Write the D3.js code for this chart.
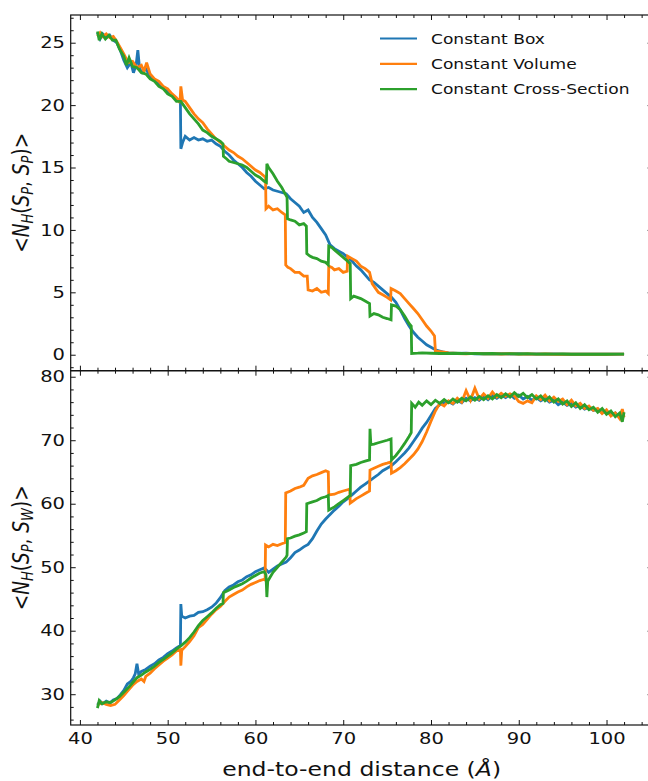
<!DOCTYPE html>
<html><head><meta charset="utf-8">
<script src="https://cdn.jsdelivr.net/npm/d3@7"></script>
<style>body{margin:0;background:#fff}svg{display:block}text{font-family:"DejaVu Sans",sans-serif;fill:#111}</style>
</head><body><svg id="c" width="648" height="781"></svg>
<script>
const seriesNames = ["Constant Box","Constant Volume","Constant Cross-Section"];
const seriesColors = ["#1f77b4","#ff7f0e","#2ca02c"];
const xMajorTicks = [40,50,60,70,80,90,100];
const topMajorTicks = [0,5,10,15,20,25];
const botMajorTicks = [30,40,50,60,70,80];

// top panel: <N_H(S_P,S_P)>  [distance, value]
const boxSP = [[42,25.8],[42.3,25.3],[42.6,25.7],[43,25.4],[43.4,25.6],[43.8,25.2],[44.2,25.0],[44.6,24.4],[45,23.6],[45.4,23.0],[45.8,23.4],[46.1,22.6],[46.4,23.2],[46.6,24.4],[46.8,22.9],[47.1,22.6],[47.5,22.9],[48,22.3],[48.5,22.0],[49,21.7],[49.5,21.4],[50,21.1],[50.5,20.8],[51,20.5],[51.45,20.3],[51.5,16.5],[51.7,17.0],[52,17.5],[52.5,17.2],[53,17.4],[53.5,17.2],[54,17.3],[54.5,17.1],[55,17.2],[55.5,16.9],[56,16.7],[56.5,16.3],[57,16.0],[57.5,15.6],[58,15.3],[58.5,15.0],[59,14.6],[59.5,14.3],[60,13.9],[60.5,13.6],[61,13.3],[61.5,13.4],[62,13.2],[62.5,13.1],[63,13.0],[63.5,12.9],[64,12.5],[64.5,12.2],[65,11.9],[65.5,11.4],[66,11.6],[66.5,11.0],[67,10.6],[67.5,10.1],[68,9.6],[68.5,8.8],[69,8.5],[69.5,8.3],[70,8.1],[70.5,7.8],[71,7.5],[71.5,7.1],[72,6.8],[72.5,6.4],[73,6.0],[73.5,5.8],[74,5.5],[74.5,5.2],[75,4.9],[75.5,4.6],[76,4.2],[76.5,3.6],[77,2.9],[77.5,2.3],[78,1.8],[78.5,1.4],[79,1.1],[79.5,0.8],[80,0.6],[80.5,0.4],[81,0.3],[81.5,0.2],[82,0.15],[83,0.1],[84,0.12],[85,0.08],[86,0.1],[87,0.07],[88,0.09],[89,0.06],[90,0.08],[91,0.05],[92,0.07],[93,0.05],[94,0.06],[95,0.04],[96,0.05],[97,0.04],[98,0.05],[99,0.04],[100,0.05],[101,0.04],[102,0.05]];
const volSP = [[42,25.5],[42.3,25.8],[42.6,25.5],[43,25.7],[43.4,25.4],[43.8,25.5],[44.2,25.1],[44.6,24.6],[45,24.1],[45.5,23.4],[46,23.5],[46.5,23.0],[47,23.2],[47.3,22.7],[47.6,23.4],[48,22.5],[48.5,22.1],[49,21.9],[49.5,21.5],[50,21.3],[50.5,20.9],[51,20.6],[51.4,20.2],[51.5,21.5],[51.7,20.4],[52,20.3],[52.5,19.8],[53,19.3],[53.5,18.9],[54,18.6],[54.5,18.1],[55,17.7],[55.5,17.3],[56,17.0],[56.5,16.7],[57,16.4],[57.5,16.2],[58,15.9],[58.5,15.7],[59,15.4],[59.5,15.1],[60,14.8],[60.5,14.6],[61,14.3],[61.15,14.2],[61.2,11.7],[61.5,11.9],[62,11.6],[62.5,11.7],[63,11.4],[63.4,11.2],[63.45,7.2],[63.7,7.0],[64,6.9],[64.5,6.6],[65,6.6],[65.5,6.3],[65.9,6.3],[66,5.2],[66.5,5.1],[67,5.3],[67.5,5.0],[68,5.1],[68.3,4.9],[68.35,7.1],[68.7,7.0],[69,6.8],[69.5,6.9],[70,6.6],[70.45,6.7],[70.5,7.9],[71,7.7],[71.5,7.5],[72,7.1],[72.5,6.9],[73,6.6],[73.3,5.7],[73.7,5.3],[74,5.0],[74.5,4.8],[75,4.6],[75.4,4.4],[75.45,5.3],[76,5.1],[76.5,4.9],[77,4.5],[77.5,4.1],[78,3.7],[78.5,3.3],[79,2.8],[79.5,2.3],[80,1.9],[80.4,1.5],[80.5,0.3],[81,0.25],[81.5,0.2],[82,0.15],[83,0.1],[84,0.08],[85,0.11],[86,0.07],[87,0.09],[88,0.06],[89,0.08],[90,0.05],[91,0.07],[92,0.05],[93,0.06],[94,0.04],[95,0.05],[96,0.04],[97,0.05],[98,0.04],[99,0.05],[100,0.04],[101,0.05],[102,0.04]];
const crossSP = [[42,25.9],[42.2,25.2],[42.5,25.7],[42.9,25.3],[43.3,25.6],[43.7,25.2],[44.1,25.2],[44.5,24.5],[45,23.9],[45.3,23.2],[45.6,23.8],[46,23.1],[46.5,23.0],[47,22.6],[47.5,22.5],[48,22.1],[48.5,21.9],[49,21.5],[49.5,21.3],[50,20.9],[50.5,20.7],[51,20.3],[51.5,20.3],[52,19.8],[52.5,19.3],[53,18.9],[53.5,18.5],[54,18.0],[54.5,17.8],[55,17.5],[55.5,17.3],[56,17.1],[56.3,16.9],[56.35,15.9],[56.7,15.7],[57,15.5],[57.5,15.4],[58,15.3],[58.5,15.2],[59,15.0],[59.5,14.7],[60,14.4],[60.5,14.2],[61,13.9],[61.25,13.8],[61.3,15.3],[61.5,15.0],[62,14.5],[62.5,13.9],[63,13.4],[63.6,12.6],[63.65,10.9],[64,10.8],[64.5,10.7],[65,10.4],[65.5,10.5],[65.8,10.3],[65.85,8.1],[66.2,7.9],[66.5,7.8],[67,7.7],[67.5,7.5],[68,7.4],[68.3,7.2],[68.35,8.7],[68.7,8.6],[69,8.4],[69.5,8.1],[70,7.8],[70.5,7.5],[70.8,7.3],[70.85,4.5],[71.2,4.7],[71.6,4.6],[72,4.5],[72.5,4.3],[73,4.1],[73.05,3.1],[73.5,3.3],[74,3.2],[74.5,3.0],[75,2.9],[75.45,2.8],[75.5,4.0],[76,3.9],[76.5,3.6],[77,3.1],[77.5,2.5],[77.75,2.3],[77.8,0.1],[78.5,0.12],[79,0.15],[80,0.12],[81,0.1],[82,0.1],[83,0.12],[84,0.09],[85,0.1],[86,0.08],[87,0.1],[88,0.07],[89,0.09],[90,0.06],[91,0.08],[92,0.05],[93,0.07],[94,0.05],[95,0.06],[96,0.04],[97,0.05],[98,0.04],[99,0.05],[100,0.04],[101,0.05],[102,0.04]];

// bottom panel: <N_H(S_P,S_W)>  [distance, value]
const boxSW = [[42,28.3],[42.3,28.9],[42.6,28.5],[43,28.9],[43.4,28.6],[43.8,29.1],[44.2,29.3],[44.6,29.9],[45,30.6],[45.4,31.6],[45.8,32.0],[46.1,32.6],[46.3,33.2],[46.5,34.8],[46.7,33.1],[47,33.6],[47.5,33.9],[48,34.4],[48.5,34.8],[49,35.4],[49.5,35.8],[50,36.4],[50.5,36.8],[51,37.3],[51.45,37.7],[51.5,44.2],[51.6,42.3],[52,42.0],[52.5,42.3],[53,42.4],[53.5,42.9],[54,43.0],[54.5,43.3],[55,43.7],[55.5,44.3],[56,45.2],[56.5,46.3],[57,46.9],[57.5,47.2],[58,47.7],[58.5,48.0],[59,48.5],[59.5,48.8],[60,49.3],[60.5,49.6],[61,49.9],[61.5,49.2],[62,49.7],[62.5,50.2],[63,50.5],[63.5,50.8],[64,51.5],[64.5,52.3],[65,52.7],[65.5,53.2],[66,53.6],[66.5,54.5],[67,55.7],[67.5,56.8],[68,57.6],[68.5,58.3],[69,59.0],[69.5,59.6],[70,60.3],[70.5,60.8],[71,61.4],[71.5,62.0],[72,62.6],[72.5,63.1],[73,63.6],[73.5,64.1],[74,64.6],[74.5,65.2],[75,65.6],[75.5,66.0],[76,66.6],[76.5,67.3],[77,68.0],[77.5,68.8],[78,69.8],[78.5,70.8],[79,71.9],[79.5,72.8],[80,73.9],[80.5,75.0],[81,75.6],[81.5,75.9],[82,76.1],[82.5,75.7],[83,76.3],[83.5,75.9],[84,76.6],[84.5,76.2],[85,76.7],[85.5,76.3],[86,76.9],[86.5,76.4],[87,77.0],[87.5,76.6],[88,77.1],[88.5,76.7],[89,77.2],[89.5,76.6],[90,77.1],[90.5,76.5],[91,76.9],[91.5,76.3],[92,76.7],[92.5,76.2],[93,76.6],[93.5,76.0],[94,76.3],[94.5,75.6],[95,76.0],[95.5,75.5],[96,75.8],[96.5,75.2],[97,75.5],[97.5,74.9],[98,75.2],[98.5,74.7],[99,74.9],[99.5,74.3],[100,74.6],[100.5,74.0],[101,74.3],[101.5,73.6],[102,73.9]];
const volSW = [[42,28.3],[42.5,28.7],[43,28.4],[43.5,28.2],[44,28.4],[44.5,29.1],[45,29.8],[45.5,30.6],[46,31.4],[46.5,32.0],[47,32.4],[47.3,32.0],[47.5,32.8],[48,33.3],[48.5,34.0],[49,34.6],[49.5,35.2],[50,35.7],[50.5,36.2],[51,36.8],[51.45,37.0],[51.5,34.5],[51.6,36.9],[52,37.5],[52.5,38.3],[53,39.2],[53.5,40.5],[54,41.0],[54.5,41.8],[55,42.6],[55.5,43.3],[56,43.8],[56.5,44.6],[57,45.3],[57.5,45.7],[58,46.1],[58.5,46.4],[59,46.9],[59.5,47.3],[60,47.6],[60.5,47.9],[61,48.1],[61.1,48.0],[61.15,53.5],[61.5,53.2],[62,53.6],[62.5,53.4],[63,53.7],[63.4,53.9],[63.45,61.7],[64,62.0],[64.5,62.4],[65,62.6],[65.5,62.9],[66,64.0],[66.5,64.4],[67,64.6],[67.5,64.9],[68,65.2],[68.3,65.0],[68.35,61.4],[69,61.5],[69.5,61.8],[70,62.0],[70.5,62.2],[70.75,62.3],[70.8,60.1],[71,60.3],[71.5,60.8],[72,61.2],[72.5,61.6],[73,62.0],[73.05,65.3],[73.5,65.6],[74,65.9],[74.5,66.2],[75,66.4],[75.45,66.6],[75.5,64.8],[76,65.2],[76.5,65.7],[77,66.3],[77.5,67.0],[78,67.7],[78.5,68.6],[79,69.8],[79.5,71.3],[80,73.0],[80.5,74.6],[81,75.8],[81.5,75.4],[82,76.2],[82.5,75.8],[83,76.6],[83.5,76.0],[84,77.8],[84.5,76.3],[85,78.2],[85.5,76.5],[86,77.3],[86.5,76.6],[87,77.6],[87.5,76.8],[88,77.4],[88.5,76.9],[89,77.3],[89.5,77.0],[90,76.1],[90.5,75.8],[91,76.2],[91.5,75.9],[92,77.0],[92.5,76.4],[93,77.1],[93.5,76.2],[94,76.8],[94.5,76.1],[95,76.5],[95.5,75.6],[96,76.3],[96.5,75.4],[97,75.8],[97.5,75.0],[98,75.4],[98.5,74.7],[99,75.0],[99.5,74.2],[100,74.8],[100.5,73.8],[101,74.3],[101.5,73.4],[101.8,74.9],[102,73.6]];
const crossSW = [[42,27.8],[42.2,29.0],[42.5,28.5],[43,28.8],[43.5,28.7],[44,29.1],[44.5,29.6],[45,30.3],[45.5,31.0],[46,31.8],[46.5,32.6],[47,33.0],[47.5,33.5],[48,33.9],[48.5,34.4],[49,35.0],[49.5,35.5],[50,36.0],[50.5,36.5],[51,37.1],[51.5,37.6],[52,38.2],[52.5,38.9],[53,39.8],[53.5,40.8],[54,41.6],[54.5,42.2],[55,42.8],[55.5,43.5],[56,44.1],[56.3,44.3],[56.35,46.0],[57,46.4],[57.5,46.8],[58,47.1],[58.5,47.4],[59,47.8],[59.5,48.3],[60,48.7],[60.5,49.1],[61,49.3],[61.2,48.8],[61.3,45.3],[61.4,47.8],[61.7,48.5],[62,49.2],[62.5,50.0],[63,50.8],[63.5,51.6],[63.6,51.9],[63.65,54.5],[64,54.6],[64.5,54.9],[65,55.1],[65.5,55.4],[65.8,55.6],[65.85,60.0],[66.5,60.3],[67,60.5],[67.5,60.9],[68,61.1],[68.3,61.3],[68.35,59.0],[69,59.5],[69.5,60.0],[70,60.5],[70.5,61.0],[70.8,61.3],[70.85,66.0],[71.5,66.2],[72,66.5],[72.5,66.7],[73,66.9],[73.05,71.8],[73.15,69.3],[73.5,69.4],[74,69.6],[74.5,69.8],[75,70.0],[75.45,70.2],[75.5,66.9],[76,67.6],[76.5,68.5],[77,69.5],[77.5,70.6],[77.75,71.2],[77.8,75.8],[78.2,75.2],[78.6,76.0],[79,75.5],[79.5,76.2],[80,75.6],[80.5,76.3],[81,75.8],[81.5,76.4],[82,75.9],[82.5,76.5],[83,76.0],[83.5,76.6],[84,76.2],[84.5,76.8],[85,76.3],[85.5,76.9],[86,76.4],[86.5,77.0],[87,76.5],[87.5,77.2],[88,76.7],[88.5,77.3],[89,76.8],[89.5,77.5],[90,76.9],[90.5,77.4],[91,76.7],[91.5,77.2],[92,76.5],[92.5,77.0],[93,76.2],[93.5,76.8],[94,76.0],[94.5,76.5],[95,75.7],[95.5,76.2],[96,75.3],[96.5,75.9],[97,75.0],[97.5,75.6],[98,74.8],[98.5,75.2],[99,74.4],[99.5,75.0],[100,74.1],[100.5,74.6],[101,73.7],[101.5,74.3],[101.8,72.9],[102,74.4]];

const svg = d3.select("#c");
const L = 70.7, R = 652.6, T = 15, MID = 370.7, B = 725;
const STRETCH = 1.22;
const x = d3.scaleLinear().domain([38.95,105.25]).range([L,R]);
const yTop = d3.scaleLinear().domain([-1.28,27.22]).range([MID,T]);
const yBot = d3.scaleLinear().domain([25.15,80.95]).range([B,MID]);

const xMinor = d3.range(40,106,2).filter(v=>v%10!==0);
const yTopMinor = d3.range(-1,28,1).filter(v=>v%5!==0);
const yBotMinor = d3.range(26,81,2).filter(v=>v%10!==0);

const defs = svg.append("defs");
defs.append("clipPath").attr("id","clipTop").append("rect").attr("x",L).attr("y",T).attr("width",R-L).attr("height",MID-T);
defs.append("clipPath").attr("id","clipBot").append("rect").attr("x",L).attr("y",MID).attr("width",R-L).attr("height",B-MID);

function drawLines(data, yScale, clip){
  const g = svg.append("g").attr("clip-path",`url(#${clip})`);
  const line = d3.line().x(d=>x(d[0])).y(d=>yScale(d[1]));
  data.forEach((s,i)=>{
    g.append("path").attr("d",line(s)).attr("fill","none")
      .attr("stroke",seriesColors[i]).attr("stroke-width",2.8)
      .attr("stroke-linejoin","miter").attr("stroke-miterlimit",3);
  });
}
drawLines([boxSP,volSP,crossSP], yTop, "clipTop");
drawLines([boxSW,volSW,crossSW], yBot, "clipBot");

function axis(gen, tx, ty, vals, len, labels){
  const a = gen.tickValues(vals).tickSize(-len);
  if(!labels) a.tickFormat("");
  const g = svg.append("g").attr("transform",`translate(${tx},${ty})`).call(a);
  g.select(".domain").remove();
  g.selectAll(".tick line").attr("stroke","#111").attr("stroke-width",1);
  return g;
}
function panelAxes(yScale, yMaj, yMin, top, bottom, xLabels){
  axis(d3.axisTop(x), 0, top, xMajorTicks, 5, false);
  axis(d3.axisTop(x), 0, top, xMinor, 3, false);
  const gb = axis(d3.axisBottom(x).tickPadding(8), 0, bottom, xMajorTicks, 5, xLabels);
  axis(d3.axisBottom(x), 0, bottom, xMinor, 3, false);
  const gl = axis(d3.axisLeft(yScale).tickPadding(4.7), L, 0, yMaj, 5, true);
  axis(d3.axisLeft(yScale), L, 0, yMin, 3, false);
  axis(d3.axisRight(yScale), R, 0, yMaj, 5, false);
  axis(d3.axisRight(yScale), R, 0, yMin, 3, false);
  gl.selectAll(".tick text").attr("font-size",16).attr("font-family","DejaVu Sans").attr("fill","#111")
    .attr("transform",`scale(${STRETCH},1)`);
  if(xLabels) gb.selectAll(".tick text").attr("font-size",16).attr("font-family","DejaVu Sans").attr("fill","#111")
    .attr("transform",`scale(${STRETCH},1)`);
  svg.append("rect").attr("x",L).attr("y",top).attr("width",R-L).attr("height",bottom-top)
    .attr("fill","none").attr("stroke","#111").attr("stroke-width",1.2);
}
panelAxes(yTop, topMajorTicks, yTopMinor, T, MID, false);
panelAxes(yBot, botMajorTicks, yBotMinor, MID, B, true);

// legend
seriesNames.forEach((n,i)=>{
  const yy = 38.5 + i*25.3;
  svg.append("line").attr("x1",380).attr("x2",417).attr("y1",yy).attr("y2",yy)
    .attr("stroke",seriesColors[i]).attr("stroke-width",2.2);
  svg.append("text").attr("transform",`translate(431,${yy+5}) scale(${STRETCH},1)`)
    .attr("font-size",14).text(n);
});

// x label
svg.append("text").attr("transform",`translate(${(L+R)/2},776) scale(${STRETCH},1)`)
  .attr("text-anchor","middle").attr("font-size",19.3)
  .html('end-to-end distance (<tspan font-style="italic">Å</tspan>)');

// y labels
function yLabel(cy, sub2){
  const t = svg.append("text").attr("transform",`translate(28.5,${cy}) scale(${STRETCH},1) rotate(-90)`)
    .attr("text-anchor","middle").attr("font-size",18.5);
  t.append("tspan").text("<");
  t.append("tspan").attr("font-style","italic").text("N");
  t.append("tspan").attr("font-style","italic").attr("font-size",13).attr("dy",4).text("H");
  t.append("tspan").attr("dy",-4).text("(");
  t.append("tspan").attr("font-style","italic").text("S");
  t.append("tspan").attr("font-style","italic").attr("font-size",13).attr("dy",4).text("P");
  t.append("tspan").attr("dy",-4).text(", ");
  t.append("tspan").attr("font-style","italic").text("S");
  t.append("tspan").attr("font-style","italic").attr("font-size",13).attr("dy",4).text(sub2);
  t.append("tspan").attr("dy",-4).text(")>");
}
yLabel((T+MID)/2, "P");
yLabel((MID+B)/2, "W");
</script></body></html>
